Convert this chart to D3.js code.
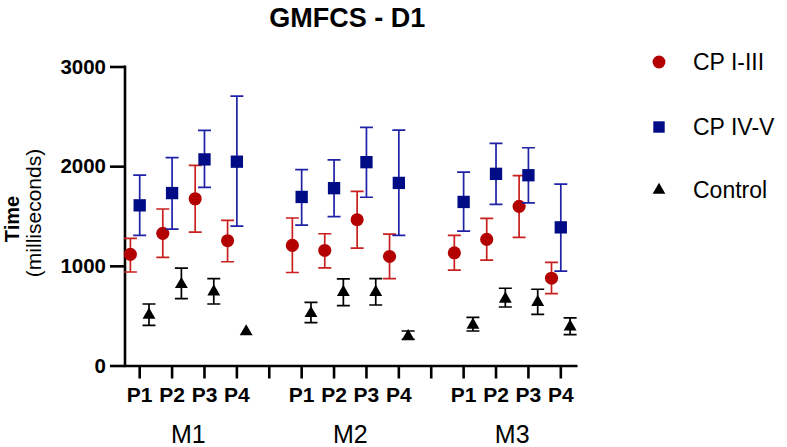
<!DOCTYPE html>
<html>
<head>
<meta charset="utf-8">
<script src="https://cdn.jsdelivr.net/npm/d3@7"></script>
<style>
  body { margin: 0; background: #fff; }
  text { font-family: Arial, "Liberation Sans", Helvetica, sans-serif; }
</style>
</head>
<body>
<div id="chart"></div>
<script>
// groups on the x axis
var measures = ['M1', 'M2', 'M3'];
var phases = ['P1', 'P2', 'P3', 'P4'];
var seriesNames = ['CP I-III', 'CP IV-V', 'Control'];
var yTicks = [0, 1000, 2000, 3000];

// values in ms, order: M1 P1..P4, M2 P1..P4, M3 P1..P4
var cp13Mean = [1115, 1326, 1673, 1252, 1205, 1154, 1463, 1094, 1131, 1265, 1597, 876];
var cp13Low  = [ 938, 1085, 1339, 1041,  933,  980, 1178,  872,  956, 1057, 1285, 721];
var cp13High = [1276, 1570, 2008, 1456, 1480, 1322, 1748, 1319, 1305, 1477, 1906, 1034];

var cp45Mean = [1607, 1730, 2068, 2045, 1691, 1779, 2040, 1832, 1641, 1923, 1909, 1386];
var cp45Low  = [1306, 1369, 1787, 1399, 1409, 1493, 1688, 1305, 1349, 1617, 1631,  946];
var cp45High = [1911, 2085, 2359, 2703, 1966, 2064, 2389, 2362, 1940, 2228, 2185, 1819];

var ctrlMean = [507, 814, 740, 340, 523, 735, 735, 292, 406, 668, 634, 389];
var ctrlLow  = [403, 670, 617, 340, 430, 601, 607, 262, 346, 587, 513, 309];
var ctrlHigh = [617, 978, 871, 340, 634, 869, 872, 346, 483, 775, 765, 477];

var width = 787, height = 447;
var plotL = 123.5, plotR = 577, plotT = 66.5, plotB = 365.5;

var svg = d3.select('#chart').append('svg')
    .attr('width', width)
    .attr('height', height);

// x slots: 4 phases per measure with an empty slot between measures
var slots = [];
measures.forEach(function(m, i) {
  if (i > 0) slots.push('gap' + i);
  phases.forEach(function(p) { slots.push(m + ' ' + p); });
});

var x = d3.scaleBand().domain(slots).range([plotL, plotR]);
var y = d3.scaleLinear().domain([0, 3000]).range([plotB, plotT]);
var dodge = d3.scalePoint().domain(seriesNames).range([-9.3, 9.3]);

var series = [
  { name: 'CP I-III', mean: cp13Mean, lo: cp13Low, hi: cp13High,
    fill: '#b30000', bar: '#c8201e', shape: d3.symbolCircle, size: 135 },
  { name: 'CP IV-V', mean: cp45Mean, lo: cp45Low, hi: cp45High,
    fill: '#000c86', bar: '#1f22a6', shape: d3.symbolSquare, size: 152 },
  { name: 'Control', mean: ctrlMean, lo: ctrlLow, hi: ctrlHigh,
    fill: '#000000', bar: '#000000', shape: d3.symbolTriangle, size: 72 }
];

function keyOf(i) {
  return measures[Math.floor(i / 4)] + ' ' + phases[i % 4];
}

// title
svg.append('text')
    .attr('x', (plotL + plotR) / 2 - 3)
    .attr('y', 27)
    .attr('text-anchor', 'middle')
    .style('font-size', '27px')
    .style('font-weight', 'bold')
    .text('GMFCS - D1');

// y axis
var yAxis = svg.append('g')
    .attr('transform', 'translate(' + (plotL + 1.5) + ',0)')
    .call(d3.axisLeft(y).tickValues(yTicks).tickFormat(d3.format('d'))
      .tickSize(15).tickPadding(4).tickSizeOuter(0));
yAxis.selectAll('.tick line').attr('stroke-width', 2.6);
yAxis.selectAll('.tick text')
    .style('font-size', '20.5px')
    .style('font-weight', 'bold')
    .attr('fill', '#000');
yAxis.select('.domain')
    .attr('stroke-width', 2.6)
    .attr('d', 'M0,' + (plotT - 1) + 'V' + (plotB + 1.3));

// x axis
var xAxis = svg.append('g')
    .attr('transform', 'translate(0,' + plotB + ')')
    .call(d3.axisBottom(x).tickSize(13).tickPadding(9).tickSizeOuter(0)
      .tickFormat(function(d) { return d.indexOf('gap') === 0 ? '' : d.split(' ')[1]; }));
xAxis.select('.domain').attr('stroke-width', 2.6);
xAxis.selectAll('.tick line').attr('stroke-width', 2.6);
xAxis.selectAll('.tick text')
    .style('font-size', '21px')
    .style('font-weight', 'bold')
    .attr('fill', '#000');

// group labels
svg.selectAll('.mlabel').data(measures).enter().append('text')
    .attr('class', 'mlabel')
    .attr('x', function(m) {
      return (x(m + ' P1') + x(m + ' P4') + x.bandwidth()) / 2;
    })
    .attr('y', 443)
    .attr('text-anchor', 'middle')
    .style('font-size', '25px')
    .text(function(m) { return m; });

// y axis title
svg.append('text')
    .attr('transform', 'translate(19,' + 219 + ') rotate(-90)')
    .attr('text-anchor', 'middle')
    .style('font-size', '20px')
    .style('font-weight', 'bold')
    .text('Time');
svg.append('text')
    .attr('transform', 'translate(41,' + 213 + ') rotate(-90)')
    .attr('text-anchor', 'middle')
    .style('font-size', '21px')
    .text('(milliseconds)');

// error bars and markers
var cap = 6.5;
series.forEach(function(s) {
  var g = svg.append('g').attr('class', 'series');
  var rows = s.mean.map(function(v, i) {
    return { k: keyOf(i), v: v, lo: s.lo[i], hi: s.hi[i] };
  });
  var cx = function(d) { return x(d.k) + x.bandwidth() / 2 + dodge(s.name); };

  g.selectAll('.eb').data(rows.filter(function(d) { return d.hi > d.lo; }))
    .enter().append('path')
    .attr('class', 'eb')
    .attr('fill', 'none')
    .attr('stroke', s.bar)
    .attr('stroke-width', 1.7)
    .attr('d', function(d) {
      var c = cx(d);
      return 'M' + c + ',' + y(d.hi) + 'V' + y(d.lo) +
        'M' + (c - cap) + ',' + y(d.hi) + 'H' + (c + cap) +
        'M' + (c - cap) + ',' + y(d.lo) + 'H' + (c + cap);
    });

  g.selectAll('.pt').data(rows).enter().append('path')
    .attr('class', 'pt')
    .attr('fill', s.fill)
    .attr('transform', function(d) { return 'translate(' + cx(d) + ',' + y(d.v) + ')'; })
    .attr('d', d3.symbol().type(s.shape).size(s.size));
});

// legend
var legend = svg.append('g').attr('class', 'legend');
var legY = [62, 127, 190];
series.forEach(function(s, i) {
  legend.append('path')
    .attr('transform', 'translate(659,' + legY[i] + ')')
    .attr('fill', s.fill)
    .attr('d', d3.symbol().type(s.shape).size(s === series[2] ? 70 : 130));
  legend.append('text')
    .attr('x', 693)
    .attr('y', legY[i] + 8)
    .style('font-size', '23px')
    .text(s.name);
});
</script>
</body>
</html>
